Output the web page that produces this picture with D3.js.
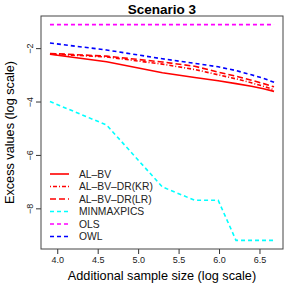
<!DOCTYPE html>
<html>
<head>
<meta charset="utf-8">
<script src="https://cdn.jsdelivr.net/npm/d3@7"></script>
<style>
  body { margin: 0; background: #fff; }
  text { font-family: "Liberation Sans", Arial, sans-serif; }
</style>
</head>
<body>
<div id="chart"></div>
<script>
// log of additional sample sizes
const xVals = [3.91, 4.61, 5.30, 5.70, 5.99, 6.21, 6.40, 6.55, 6.68];

const alBV     = [-2.23, -2.51, -2.92, -3.10, -3.22, -3.33, -3.43, -3.52, -3.62];
const alBVKR   = [-2.22, -2.33, -2.60, -2.80, -3.00, -3.15, -3.30, -3.43, -3.56];
const alBVLR   = [-2.20, -2.30, -2.52, -2.68, -2.90, -3.05, -3.20, -3.33, -3.45];
const minmax   = [-4.00, -4.88, -7.20, -7.70, -7.70, -9.20, -9.20, -9.20, -9.20];
const ols      = [-1.12, -1.12, -1.12, -1.12, -1.12, -1.12, -1.12, -1.12, -1.12];
const owl      = [-1.81, -2.07, -2.40, -2.57, -2.70, -2.84, -3.00, -3.13, -3.28];

const xTicks = [4.0, 4.5, 5.0, 5.5, 6.0, 6.5];
const yTicks = [-2, -4, -6, -8];

const series = [
  { name: "AL\u2013BV",             values: alBV,   color: "#ff0000", dash: null },
  { name: "AL\u2013BV\u2013DR(KR)", values: alBVKR, color: "#ff0000", dash: "1,2,4,2" },
  { name: "AL\u2013BV\u2013DR(LR)", values: alBVLR, color: "#ff0000", dash: "6,3" },
  { name: "MINMAXPICS",             values: minmax, color: "#00ffff", dash: "4,3" },
  { name: "OLS",                    values: ols,    color: "#ff00ff", dash: "4,3" },
  { name: "OWL",                    values: owl,    color: "#0000ff", dash: "4,3" }
];

const W = 291, H = 291;
const box = { left: 41, right: 283, top: 16, bottom: 249 };

const svg = d3.select("#chart").append("svg")
    .attr("width", W)
    .attr("height", H);

// R style 4% padding on both axes
const xPad = (d3.max(xVals) - d3.min(xVals)) * 0.04;
const x = d3.scaleLinear()
    .domain([d3.min(xVals) - xPad, d3.max(xVals) + xPad])
    .range([box.left, box.right]);

const allY = series.flatMap(s => s.values);
const yPad = (d3.max(allY) - d3.min(allY)) * 0.04;
const y = d3.scaleLinear()
    .domain([d3.min(allY) - yPad, d3.max(allY) + yPad])
    .range([box.bottom, box.top]);

// x axis
const xAxis = svg.append("g")
    .attr("transform", `translate(0, ${box.bottom})`)
    .call(d3.axisBottom(x).tickValues(xTicks).tickFormat(d3.format(".1f")).tickSize(5).tickPadding(3));
xAxis.select(".domain").remove();
xAxis.selectAll("line").attr("stroke", "#333");
xAxis.selectAll("text").attr("font-size", 9).attr("fill", "#222");

// y axis, labels rotated like R's default las=0
const yAxis = svg.append("g")
    .attr("transform", `translate(${box.left}, 0)`)
    .call(d3.axisLeft(y).tickValues(yTicks).tickFormat(d => "\u2212" + Math.abs(d)).tickSize(5));
yAxis.select(".domain").remove();
yAxis.selectAll("line").attr("stroke", "#333");
yAxis.selectAll("text")
    .attr("font-size", 9)
    .attr("fill", "#222")
    .attr("x", null)
    .attr("dy", null)
    .attr("text-anchor", "middle")
    .attr("transform", "translate(-8, 0) rotate(-90)");

// lines
const line = d3.line()
    .x((d, i) => x(xVals[i]))
    .y(d => y(d));

series.forEach(s => {
    svg.append("path")
        .datum(s.values)
        .attr("fill", "none")
        .attr("stroke", s.color)
        .attr("stroke-width", 1.6)
        .attr("stroke-dasharray", s.dash)
        .attr("d", line);
});

// frame
svg.append("rect")
    .attr("x", box.left)
    .attr("y", box.top)
    .attr("width", box.right - box.left)
    .attr("height", box.bottom - box.top)
    .attr("fill", "none")
    .attr("stroke", "#444")
    .attr("stroke-width", 1);

// legend
const legend = svg.append("g").attr("transform", "translate(50, 174)");
series.forEach((s, i) => {
    const row = legend.append("g").attr("transform", `translate(0, ${i * 12.5})`);
    row.append("line")
        .attr("x1", 0).attr("x2", 19)
        .attr("stroke", s.color)
        .attr("stroke-width", 1.6)
        .attr("stroke-dasharray", s.dash);
    row.append("text")
        .attr("x", 29)
        .attr("y", 3.7)
        .attr("font-size", 10.3)
        .attr("fill", "#222")
        .text(s.name);
});

// titles
svg.append("text")
    .attr("x", (box.left + box.right) / 2)
    .attr("y", 13.5)
    .attr("text-anchor", "middle")
    .attr("font-size", 13.5)
    .attr("font-weight", "bold")
    .text("Scenario 3");

svg.append("text")
    .attr("x", (box.left + box.right) / 2)
    .attr("y", 280)
    .attr("text-anchor", "middle")
    .attr("font-size", 12.7)
    .text("Additional sample size (log scale)");

svg.append("text")
    .attr("transform", `translate(13.5, ${(box.top + box.bottom) / 2}) rotate(-90)`)
    .attr("text-anchor", "middle")
    .attr("font-size", 12.7)
    .text("Excess values (log scale)");
</script>
</body>
</html>
